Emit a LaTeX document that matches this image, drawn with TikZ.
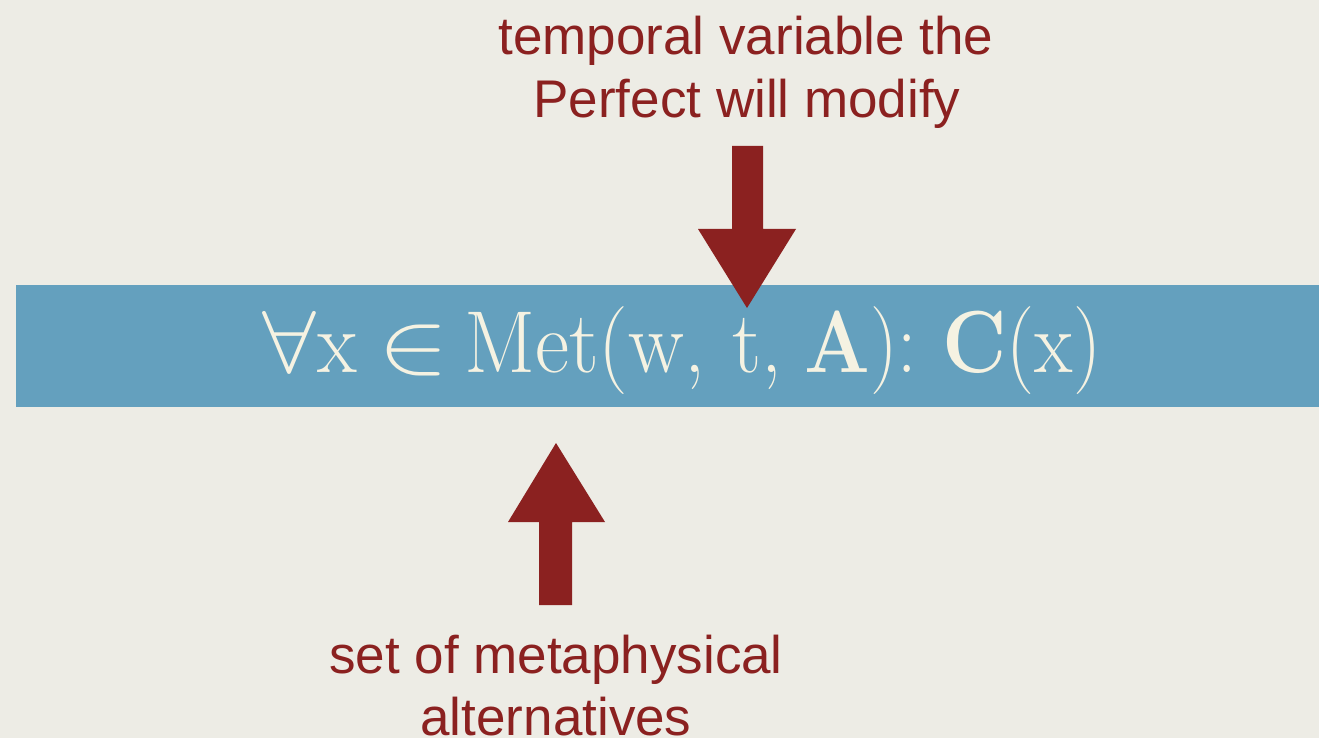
\documentclass[tikz,border=0pt]{standalone}
\usepackage{fix-cm}
\usepackage{fontspec}
\setmainfont{Liberation Sans}
\newfontfamily\formfont{Latin Modern Roman}
\definecolor{paper}{RGB}{237,236,229}
\definecolor{band}{RGB}{100,160,190}
\definecolor{arrowred}{RGB}{139,33,32}
\definecolor{cream}{RGB}{245,242,226}
\newcommand{\fpart}[3]{\makebox[#1][l]{\scalebox{#2}[1]{#3}}}
\begin{document}
\begin{tikzpicture}[x=0.5pt,y=-0.5pt,
  label/.style={inner sep=0pt,anchor=base,text=arrowred,font=\fontsize{26.5}{31.5}\selectfont},
  blockarrow/.style={fill=arrowred,draw=none}]
\clip (0,0) rectangle (1319,738);
\fill[paper] (0,0) rectangle (1319,738);
\fill[band] (16,285) rectangle (1319,407);
% down arrow
\coordinate (dtip) at (747,308);
\fill[blockarrow] (732,146) -- (763,146) -- (763,229) -- (796,229) -- (dtip) -- (698,229) -- (732,229) -- cycle;
% up arrow
\coordinate (utip) at (556,443);
\fill[blockarrow] (539,605) -- (572,605) -- (572,522) -- (605,522) -- (utip) -- (508,522) -- (539,522) -- cycle;
% formula
\node[inner sep=0pt,anchor=base west,text=cream] (formula) at (262,372)
  {\fontsize{44}{48}\selectfont\formfont
   \fpart{27.5pt}{1.1}{$\forall$}\fpart{32.5pt}{0.93}{x}\kern-2pt\fpart{43pt}{1.2}{$\in$}\fpart{134pt}{0.95}{Met(w,}\fpart{36pt}{0.93}{t,}\fpart{69pt}{0.88}{\textbf{A}):}\fpart{80pt}{0.9}{\textbf{C}(x)}};
% labels
\node[label] (top1) at (746,55) {temporal variable the};
\node[label] (top2) at (747,118) {Perfect will modify};
\node[label] (bot1) at (556,673) {set of metaphysical};
\node[label] (bot2) at (556,735) {alternatives};
\end{tikzpicture}
\end{document}
